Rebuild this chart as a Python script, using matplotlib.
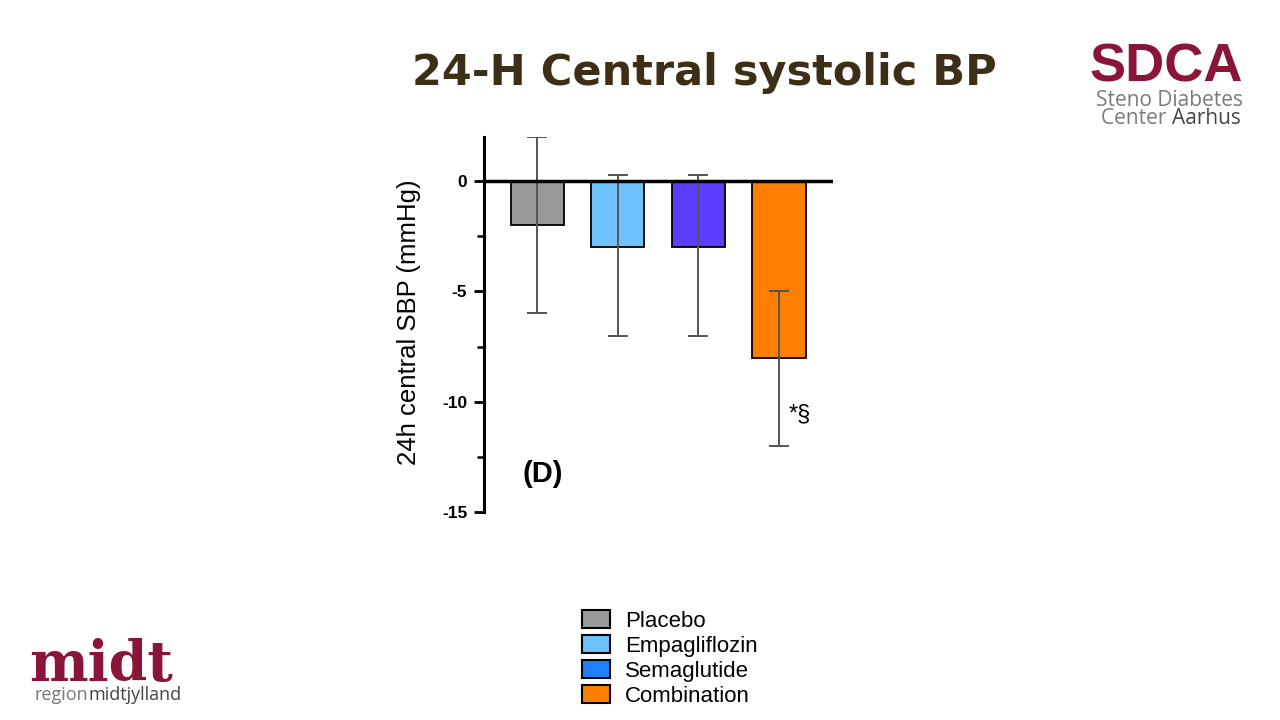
import matplotlib
matplotlib.use('Agg')
import matplotlib.pyplot as plt
from matplotlib.patches import Patch

plt.rcParams['font.family'] = ['Liberation Sans', 'DejaVu Sans']

groups = ['Placebo', 'Empagliflozin', 'Semaglutide', 'Combination']
means = [-2, -3, -3, -8]
lower = [-6, -7, -7, -12]
upper = [2, 0.3, 0.3, -5]
bar_colors = ['#999999', '#6ec3ff', '#5c3dff', '#ff8000']
legend_colors = ['#999999', '#6ec3ff', '#1e7fff', '#ff8000']
yticks = [0, -5, -10, -15]
minor_ticks = [-2.5, -7.5, -12.5]

W, H = 1280, 720
fig = plt.figure(figsize=(W / 100, H / 100), dpi=100)

# main panel
ax = fig.add_axes([484 / W, 1 - 512 / H, 349 / W, 375 / H])
x = list(range(len(groups)))
ax.bar(x, means, width=0.66, color=bar_colors, edgecolor='black', linewidth=1.3, zorder=2)
yerr = [[m - lo for m, lo in zip(means, lower)], [hi - m for m, hi in zip(means, upper)]]
ax.errorbar(x, means, yerr=yerr, fmt='none', ecolor='#555555', elinewidth=1.4,
            capsize=7, capthick=1.4, zorder=3)
ax.axhline(0, color='black', lw=2.5, zorder=4)

ax.set_xlim(-0.66, 3.67)
ax.set_ylim(-15, 2)
ax.set_xticks([])
for s in ['top', 'right', 'bottom']:
    ax.spines[s].set_visible(False)
ax.spines['left'].set_linewidth(2.2)
ax.set_yticks(yticks, labels=[str(t) for t in yticks])
ax.set_yticks(minor_ticks, minor=True)
ax.tick_params(axis='y', which='major', length=7, width=2, labelsize=12.5, pad=5)
ax.tick_params(axis='y', which='minor', length=5, width=1.8)
for lab in ax.get_yticklabels():
    lab.set_fontweight('bold')
ax.set_ylabel('24h central SBP (mmHg)', fontsize=18.5)
ax.yaxis.set_label_coords(-0.18, 0.507)

ax.text(0.07, -13.3, '(D)', ha='center', va='center', fontsize=21, fontweight='bold')
ax.text(3.12, -10.6, '*§', ha='left', va='center', fontsize=17)

# legend
handles = [Patch(facecolor=c, edgecolor='black', linewidth=1.5) for c in legend_colors]
fig.legend(handles=handles, labels=groups, loc='upper left',
           bbox_to_anchor=(582 / W, 1 - 610 / H), frameon=False, fontsize=16,
           handlelength=1.27, handleheight=0.9, handletextpad=0.65,
           labelspacing=0.14, borderpad=0, borderaxespad=0)

# title
fig.text(704 / W, 1 - 73 / H, '24-H Central systolic BP', ha='center', va='center',
         fontsize=31, fontweight='bold', family='DejaVu Sans', color='#3d2f17')

# SDCA logo
red = '#8b1538'
fig.text(1243 / W, 1 - 81 / H, 'SDCA', ha='right', va='baseline', fontsize=39,
         fontweight='bold', family='Liberation Sans', color=red)
fig.text(1243 / W, 1 - 106 / H, 'Steno Diabetes', ha='right', va='baseline',
         fontsize=15, family='Open Sans', color='#7a7a7a')
t_aar = fig.text(1241 / W, 1 - 124 / H, 'Aarhus', ha='right', va='baseline',
                 fontsize=15, family='Open Sans', color='#454545')
r = fig.canvas.get_renderer()
bb = t_aar.get_window_extent(r)
fig.text(bb.x0 / W, 1 - 124 / H, 'Center ', ha='right', va='baseline',
         fontsize=15, family='Open Sans', color='#7a7a7a')

# midt logo
fig.text(29 / W, 1 - 681 / H, 'midt', ha='left', va='baseline', fontsize=40,
         fontweight='bold', family='DejaVu Serif', color=red)
t_reg = fig.text(35 / W, 1 - 700 / H, 'region', ha='left', va='baseline',
                 fontsize=13, family='Open Sans', color='#777777')
bb = t_reg.get_window_extent(r)
fig.text(bb.x1 / W, 1 - 700 / H, 'midtjylland', ha='left', va='baseline',
         fontsize=13, family='Open Sans', color='#444444')

fig.savefig('out.png', dpi=100)
